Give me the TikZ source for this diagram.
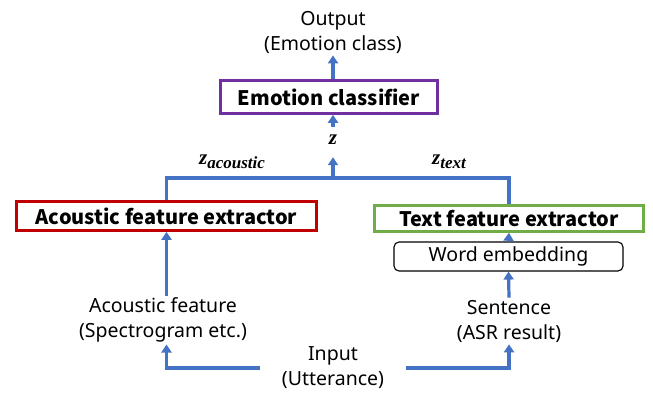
\documentclass[tikz,border=0pt]{standalone}
\usepackage{fontspec}
\setmainfont{Noto Sans}
\newfontfamily\stagefont{Noto Sans CJK JP}
\newfontfamily\veclabel{Liberation Serif}
\usetikzlibrary{arrows.meta}
\definecolor{flow}{HTML}{4472C4}
\definecolor{clsborder}{HTML}{7030A0}
\definecolor{acborder}{HTML}{C00000}
\definecolor{txborder}{HTML}{70AD47}
\newcommand{\vecsym}[2]{{\veclabel\bfseries\itshape\fontsize{21}{22}\selectfont #1\raisebox{-4pt}{\fontsize{17}{17}\selectfont #2}}}
\tikzset{
  plain/.style={align=center, inner sep=2pt, font=\fontsize{19.5}{25}\selectfont},
  stage/.style={draw, line width=2.6pt, fill=white, inner sep=0pt,
    font=\stagefont\bfseries\fontsize{20}{22}\selectfont},
  embed/.style={draw=black, line width=1.1pt, rounded corners=5pt, inner sep=0pt,
    font=\fontsize{19.5}{22}\selectfont},
  flowline/.style={draw=flow, line width=3.2pt},
  flowarrow/.style={flowline, -{Triangle[width=10pt,length=8pt]}},
  vec/.style={inner sep=0pt}
}
\begin{document}
\begin{tikzpicture}[x=1pt,y=-1pt]
  \useasboundingbox (0,0) rectangle (653,392);

  % outputs and classifier
  \node[plain] (out) at (333,32) {Output\\(Emotion class)};
  \node[stage, draw=clsborder, minimum width=217pt, minimum height=33pt] (cls) at (329,97) {Emotion classifier};
  \node[vec, minimum height=30pt] (z) at (333,142) {\vecsym{z}{}};
  \coordinate (jn) at (333,178);

  % extractors
  \node[stage, draw=acborder, minimum width=300pt, minimum height=29pt] (ac) at (166.5,216) {Acoustic feature extractor};
  \node[stage, draw=txborder, minimum width=269pt, minimum height=26pt] (tx) at (509,218.5) {Text feature extractor};
  \node[embed, minimum width=229pt, minimum height=29pt] (we) at (508.5,256.5) {Word embedding};

  % feature labels
  \node[vec] (za) at (232,162) {\vecsym{z}{acoustic}};
  \node[vec] (zt) at (449,162) {\vecsym{z}{text}};

  % inputs
  \node[plain] (af) at (163,320) {Acoustic feature\\(Spectrogram etc.)};
  \node[plain] (sent) at (509,321) {Sentence\\(ASR result)};
  \node[plain] (in) at (333,368) {Input\\(Utterance)};

  % connectors
  \draw[flowarrow] (cls.north -| z) -- (out.south -| z);
  \draw[flowarrow] (z.north) -- (cls.south -| z);
  \draw[flowarrow] (jn) -- (z.south);
  \draw[flowline] (ac.north) -- (ac.north |- jn) -- (tx.north |- jn) -- (tx.north);
  \draw[flowarrow] (ac.south |- af.north) -- (ac.south);
  \draw[flowarrow] (sent.north) -- (we.south);
  \draw[flowarrow] (we.north) -- (tx.south);
  \draw[flowarrow] ([xshift=-20pt]in.west) -| (ac.south |- af.south);
  \draw[flowarrow] ([xshift=20pt]in.east) -| (sent.south);
\end{tikzpicture}
\end{document}
